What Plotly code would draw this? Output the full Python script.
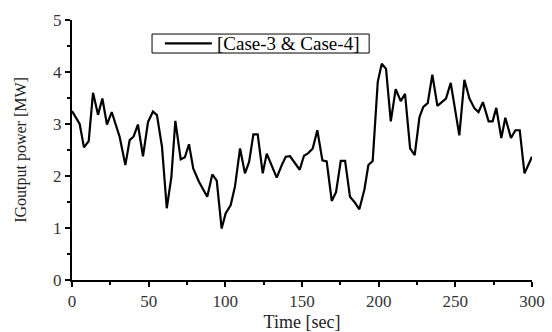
import plotly.graph_objects as go

# Induction generator output power over time
time_s = [0, 5, 7.8, 10.9, 13.7, 17, 19.8, 22.8, 25.9, 31.1, 34.8, 37.6, 40.2, 43,
          46.3, 49.6, 52.8, 55.4, 58.7, 61.8, 64.8, 67.4, 70.9, 73.6, 76.3, 79.1,
          82.8, 85.6, 88.2, 91.5, 94.4, 97.6, 100.2, 103.5, 106.3, 109.6, 112.8,
          115.5, 118.3, 121.1, 124.4, 127, 130.3, 133.5, 136.8, 139.4, 142.2, 145,
          148.5, 151.3, 154.1, 157, 160, 163.3, 166.1, 169.4, 172.2, 175.3, 178.1,
          181.3, 184.2, 187.4, 190.7, 193.3, 196.1, 199.4, 202, 204.8, 207.9, 211.1,
          214.4, 217.2, 220.5, 223.5, 226.6, 229.1, 232, 235, 238.3, 243.9, 247,
          252.6, 255.9, 259.2, 262.5, 265.1, 268, 271.7, 274.3, 276.7, 280, 282.6,
          286.3, 289.2, 292, 295.1, 300]
power_mw = [3.25, 3.0, 2.55, 2.67, 3.6, 3.18, 3.49, 2.99, 3.23, 2.75, 2.21, 2.69,
            2.76, 2.99, 2.38, 3.04, 3.24, 3.17, 2.56, 1.38, 1.98, 3.06, 2.32, 2.36,
            2.61, 2.14, 1.89, 1.73, 1.6, 2.03, 1.91, 0.99, 1.28, 1.44, 1.8, 2.53,
            2.05, 2.27, 2.8, 2.8, 2.05, 2.43, 2.21, 1.97, 2.21, 2.37, 2.38, 2.27,
            2.12, 2.39, 2.44, 2.53, 2.88, 2.3, 2.28, 1.52, 1.69, 2.29, 2.29, 1.6,
            1.5, 1.36, 1.74, 2.21, 2.29, 3.81, 4.16, 4.06, 3.05, 3.67, 3.44, 3.58,
            2.53, 2.4, 3.13, 3.33, 3.4, 3.95, 3.35, 3.49, 3.79, 2.78, 3.85, 3.49,
            3.3, 3.23, 3.42, 3.05, 3.05, 3.31, 2.73, 3.12, 2.73, 2.88, 2.88, 2.05,
            2.37]
series_name = "[Case-3 & Case-4]"

serif = "Liberation Serif, Times New Roman, serif"

fig = go.Figure()
fig.add_trace(go.Scatter(
    x=time_s, y=power_mw, mode="lines",
    line=dict(color="black", width=2.2),
    name=series_name, showlegend=False,
))

axis_common = dict(
    showgrid=False, zeroline=False, showline=True, linecolor="black", linewidth=2,
    ticks="outside", ticklen=5, tickwidth=1.5, tickcolor="black",
    tickfont=dict(family=serif, size=17, color="#333333"),
    minor=dict(ticks="outside", ticklen=3, tickwidth=1.5, tickcolor="black"),
    automargin=False,
)

fig.update_xaxes(range=[0, 300], tick0=0, dtick=50,
                 minor_dtick=25,
                 title=dict(text="Time [sec]", font=dict(family=serif, size=18, color="#222222"),
                            standoff=8),
                 **axis_common)
fig.update_yaxes(range=[0, 5], tick0=0, dtick=1,
                 minor_dtick=0.5,
                 title=dict(text="IGoutput power [MW]", font=dict(family=serif, size=16, color="#222222"),
                            standoff=22),
                 **axis_common)

# Boxed key in the upper part of the plot area (paper coordinates)
fig.add_shape(type="rect", xref="paper", yref="paper",
              x0=0.174, x1=0.646, y0=0.873, y1=0.946,
              line=dict(color="black", width=1), fillcolor="white", layer="above")
fig.add_shape(type="line", xref="paper", yref="paper",
              x0=0.202, x1=0.304, y0=0.910, y1=0.910,
              line=dict(color="black", width=2.2), layer="above")
fig.add_annotation(xref="paper", yref="paper", x=0.311, y=0.910,
                   xanchor="left", yanchor="middle", showarrow=False,
                   text=series_name,
                   font=dict(family=serif, size=19, color="black"))

fig.update_layout(
    width=552, height=332,
    margin=dict(l=72, r=20, t=20, b=52),
    paper_bgcolor="white", plot_bgcolor="white",
    showlegend=False,
)

fig.write_html("out.html")
